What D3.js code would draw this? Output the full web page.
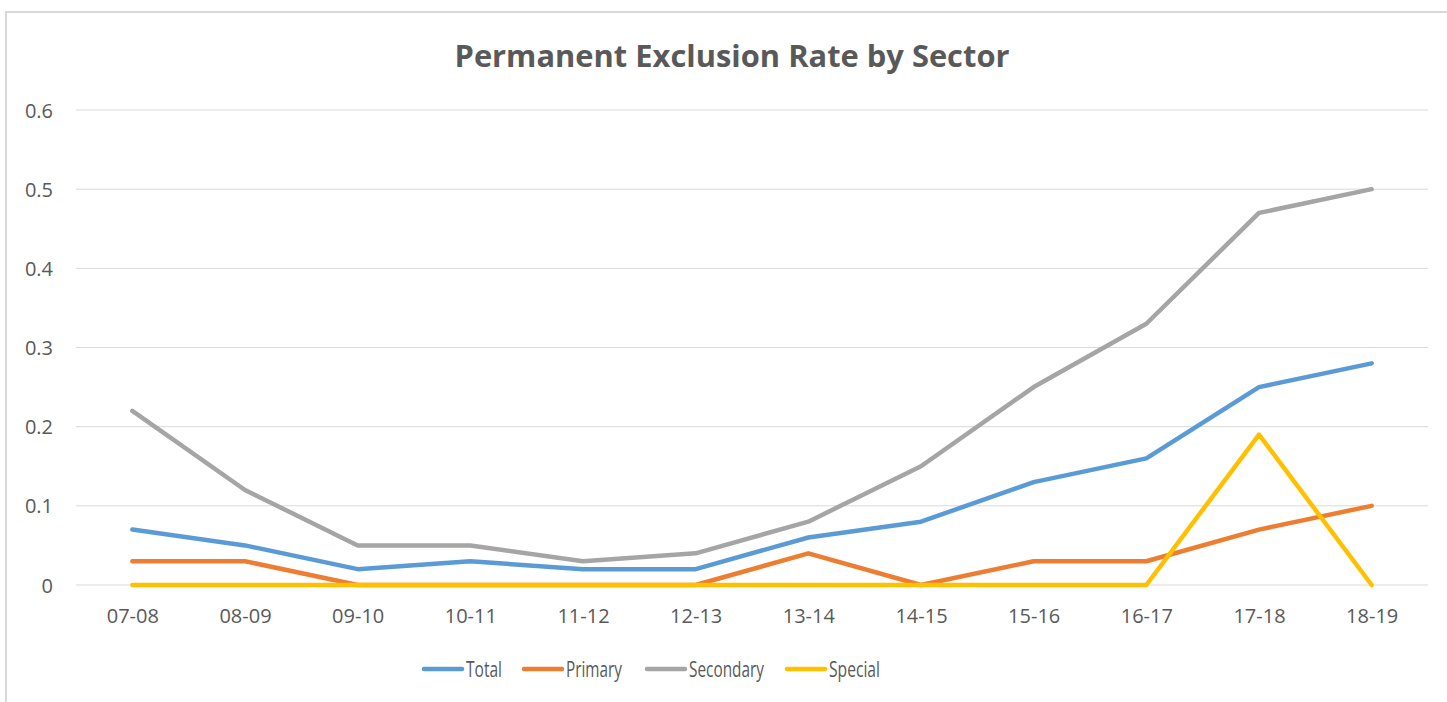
<!DOCTYPE html>
<html><head><meta charset="utf-8">
<script src="https://cdn.jsdelivr.net/npm/d3@7"></script>
<style>body{margin:0;background:#fff}svg{display:block}</style>
</head><body>
<svg id="c" width="1447" height="702"></svg>
<script>
const categories = ["07-08","08-09","09-10","10-11","11-12","12-13","13-14","14-15","15-16","16-17","17-18","18-19"];
const total     = [0.07,0.05,0.02,0.03,0.02,0.02,0.06,0.08,0.13,0.16,0.25,0.28];
const primary   = [0.03,0.03,0,0,0,0,0.04,0,0.03,0.03,0.07,0.10];
const secondary = [0.22,0.12,0.05,0.05,0.03,0.04,0.08,0.15,0.25,0.33,0.47,0.50];
const special   = [0,0,0,0,0,0,0,0,0,0,0.19,0];
const yTicks = [0,0.1,0.2,0.3,0.4,0.5,0.6];
const seriesNames = ["Total","Primary","Secondary","Special"];
const seriesColors = ["#5B9BD5","#ED7D31","#A5A5A5","#FFC000"];
const seriesData = [total, primary, secondary, special];

const svg = d3.select("#c");
const font = "'Open Sans', sans-serif";
const textCol = "#595959";

// chart border
svg.append("rect").attr("x",6).attr("y",12).attr("width",1460).attr("height",720)
  .attr("fill","#fff").attr("stroke","#D9D9D9").attr("stroke-width",2);

const x = d3.scalePoint().domain(categories).range([76,1428]).padding(0.5);
const y = d3.scaleLinear().domain([0,0.6]).range([585,110]);

// gridlines
svg.append("g").selectAll("line").data(yTicks).join("line")
  .attr("x1",76).attr("x2",1428).attr("y1",d=>y(d)).attr("y2",d=>y(d))
  .attr("stroke","#D9D9D9").attr("stroke-width",1);

// y axis labels
const yAxis = svg.append("g").attr("transform","translate(60,0)")
  .call(d3.axisLeft(y).tickValues(yTicks).tickFormat(d=>d===0?"0":d3.format(".1f")(d)).tickSize(0).tickPadding(7));
yAxis.select(".domain").remove();
yAxis.selectAll("text").attr("font-family",font).attr("font-size",20).attr("fill",textCol).attr("dy","0.35em");

// x axis labels
const xAxis = svg.append("g").attr("transform","translate(0,623)")
  .call(d3.axisBottom(x).tickSize(0).tickPadding(0));
xAxis.select(".domain").remove();
xAxis.selectAll("text").attr("font-family",font).attr("font-size",20).attr("fill",textCol).attr("dy","0");

// lines
const line = d3.line().x((d,i)=>x(categories[i])).y(d=>y(d));
seriesData.forEach((s,k)=>{
  svg.append("path").datum(s).attr("d",line).attr("fill","none")
    .attr("stroke",seriesColors[k]).attr("stroke-width",4.5)
    .attr("stroke-linejoin","round").attr("stroke-linecap","round");
});

// title
const title = svg.append("text").attr("x",732).attr("y",67).attr("text-anchor","middle")
  .attr("font-family",font).attr("font-weight","bold").attr("font-size",30).attr("fill",textCol)
  .text("Permanent Exclusion Rate by Sector");
title.attr("textLength",555).attr("lengthAdjust","spacingAndGlyphs");

// legend
const legX = [422,522,645,785];
const legW = [36,56,75,51];
const leg = svg.append("g");
seriesNames.forEach((n,k)=>{
  leg.append("line").attr("x1",legX[k]+2).attr("x2",legX[k]+40).attr("y1",669).attr("y2",669)
    .attr("stroke",seriesColors[k]).attr("stroke-width",4.5).attr("stroke-linecap","round");
  leg.append("text").attr("x",legX[k]+44).attr("y",677).attr("font-family",font).attr("font-size",21)
    .attr("fill",textCol).attr("textLength",legW[k]).attr("lengthAdjust","spacingAndGlyphs").text(n);
});
</script>
</body></html>
